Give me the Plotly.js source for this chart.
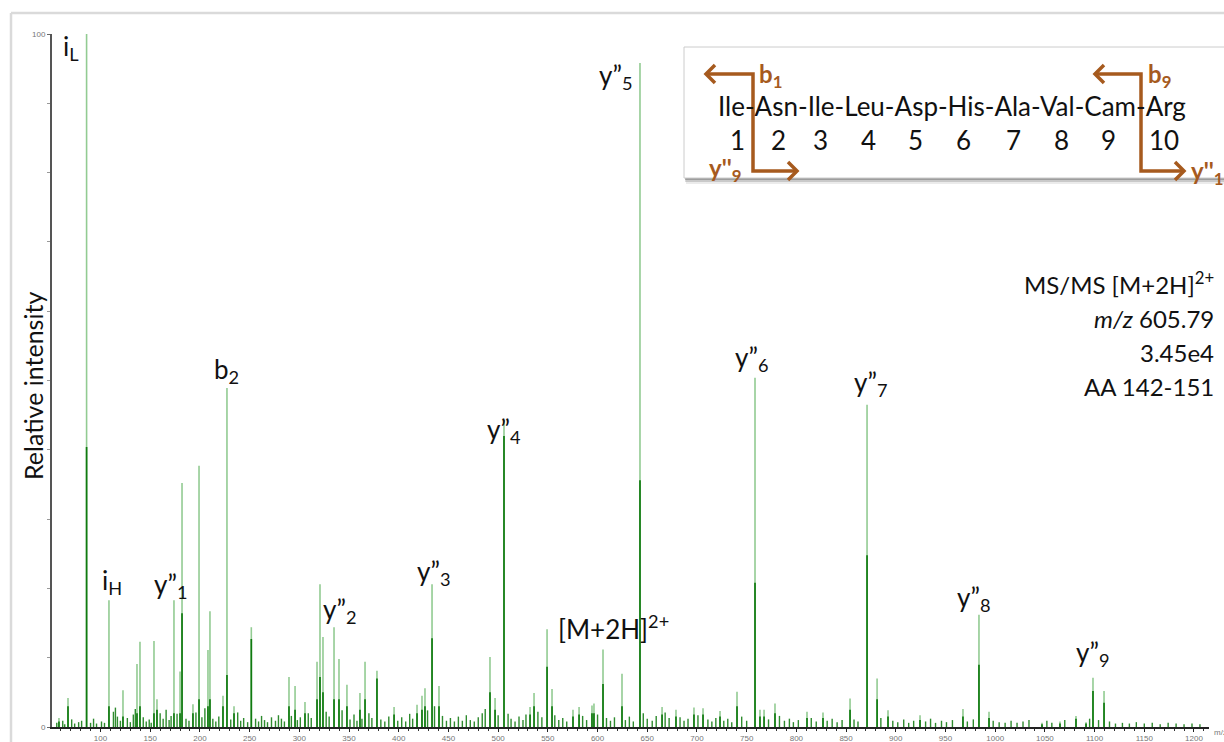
<!DOCTYPE html>
<html><head><meta charset="utf-8">
<script src="https://cdn.plot.ly/plotly-3.0.1.min.js"></script>
<style>html,body{margin:0;padding:0;background:#fff;}#chart{width:1224px;height:742px;}</style>
</head><body><div id="chart"></div>
<script>
// ---- DATA ----
// peak sticks: m/z, full (profile) height, dark (core) height, relative intensity %
const peakMz   = [58.2, 67.3, 86.0, 108.5, 122.6, 136.7, 139.7, 153.8, 156.8, 173.9, 180.0, 182.0, 193.0, 199.1, 208.1, 210.1, 223.2, 227.2, 234.3, 251.7,
                  289.6, 295.7, 305.7, 317.8, 320.8, 323.8, 334.9, 339.9, 347.9, 361.0, 366.1, 378.1, 395.3, 418.4, 423.4, 426.4, 433.5, 440.5,
                  491.8, 496.9, 505.9, 532.1, 536.1, 549.2, 554.2, 575.3, 581.4, 594.4, 596.4, 605.5, 624.6, 642.7, 664.9, 678.9, 697.0, 706.1, 723.2,
                  740.3, 758.4, 763.4, 767.5, 778.5, 810.7, 826.8, 854.0, 871.1, 881.2, 892.2, 924.4, 967.6, 983.7, 993.8, 1047.1, 1065.2, 1081.3, 1091.4, 1098.4, 1109.5];
const peakInt  = [1.3, 4.2, 100, 18.3, 5.3, 9.1, 12.3, 12.4, 4.0, 18.3, 8.0, 35.2, 3.3, 37.7, 11.1, 16.7, 4.5, 48.9, 3.0, 14.4,
                  7.2, 5.9, 3.6, 9.4, 20.6, 13.0, 14.4, 9.8, 6.1, 4.9, 9.4, 8.1, 2.9, 3.2, 4.5, 5.6, 20.6, 5.9,
                  10.1, 4.2, 44.3, 2.9, 4.9, 14.1, 5.5, 2.5, 2.9, 3.1, 3.4, 11.2, 7.7, 95.8, 2.9, 2.5, 2.8, 2.7, 2.3,
                  5.1, 50.4, 2.5, 2.5, 3.4, 2.2, 2.1, 4.1, 46.5, 7.0, 2.4, 1.7, 2.6, 16.2, 2.2, 0.6, 0.8, 1.6, 0.7, 7.1, 5.2];
const peakCore = [0.8, 3.0, 40.4, 3.0, 1.5, 2.0, 3.0, 2.0, 2.5, 2.0, 2.0, 16.4, 2.0, 4.0, 3.0, 4.0, 3.0, 7.5, 2.0, 12.7,
                  3.0, 2.5, 2.0, 4.0, 7.2, 5.0, 4.0, 4.0, 3.0, 2.5, 4.0, 7.0, 1.8, 2.0, 2.5, 3.0, 12.8, 3.0,
                  5.0, 2.5, 42.0, 1.8, 3.0, 8.7, 3.0, 1.5, 1.8, 2.0, 2.0, 6.2, 3.0, 35.6, 1.8, 1.5, 1.8, 1.8, 1.5,
                  3.0, 20.8, 1.5, 1.5, 2.0, 1.3, 1.3, 2.5, 24.8, 4.0, 1.5, 1.0, 1.5, 9.0, 1.3, 0.4, 0.5, 1.2, 0.5, 5.2, 3.5];
// baseline noise sticks
const noiseMz  = [56, 62, 64, 71, 74, 78, 81, 90, 93, 96, 101, 104, 113, 115, 117, 120, 127, 130, 133, 135, 143, 146, 149, 151, 160, 163, 166, 169, 171, 177,
                  186, 189, 196, 202, 205, 213, 216, 219, 231, 238, 241, 244, 248, 256, 259, 262, 265, 268, 272, 276, 279, 282, 285, 292, 298, 301, 309, 312,
                  327, 330, 343, 351, 355, 358, 363, 370, 373, 382, 386, 390, 399, 403, 407, 411, 414, 429, 436, 444, 448, 452, 456, 460, 464, 468, 472, 476,
                  480, 484, 487, 500, 510, 513, 517, 521, 525, 528, 540, 544, 557, 561, 565, 569, 585, 589, 600, 609, 613, 617, 628, 632, 636, 646, 650, 655,
                  659, 668, 672, 683, 687, 691, 701, 711, 715, 719, 727, 731, 735, 745, 750, 772, 783, 788, 793, 797, 802, 815, 820, 831, 836, 841, 846, 858,
                  862, 885, 897, 902, 908, 913, 918, 930, 935, 940, 946, 951, 957, 972, 978, 998, 1004, 1010, 1016, 1022, 1028, 1034, 1052, 1057, 1070, 1095,
                  1104, 1115, 1121, 1128, 1135, 1142, 1150, 1158, 1166, 1174, 1182, 1190, 1198, 1206];
const noiseInt = [0.6, 0.9, 0.4, 1.1, 0.5, 0.7, 0.9, 0.6, 1.2, 0.5, 0.8, 0.6, 2.2, 2.8, 1.5, 0.9, 1.3, 0.7, 1.8, 2.6, 1.4, 0.8, 1.1, 0.6, 2.0, 1.2, 2.5, 1.0, 1.6, 1.9,
                  1.2, 0.9, 2.1, 1.4, 2.7, 1.2, 0.8, 1.5, 1.1, 2.1, 0.9, 1.3, 0.7, 1.2, 0.8, 1.6, 1.0, 0.7, 1.4, 0.9, 1.7, 1.2, 0.8, 1.6, 1.0, 1.4, 2.0, 1.3,
                  2.2, 1.5, 2.4, 1.1, 1.8, 0.9, 1.2, 2.0, 1.3, 1.1, 0.8, 1.5, 0.9, 1.4, 0.8, 1.9, 1.2, 2.4, 3.0, 1.6, 0.9, 1.3, 0.8, 1.5, 0.9, 1.7, 1.0, 0.8,
                  1.4, 2.0, 2.6, 1.7, 1.9, 1.2, 0.8, 1.5, 1.0, 1.8, 2.2, 1.4, 1.7, 1.0, 1.3, 0.8, 1.6, 1.0, 1.8, 1.3, 0.9, 1.4, 1.0, 1.5, 0.8, 2.0, 1.2, 0.9,
                  1.6, 2.1, 1.3, 1.4, 0.9, 1.2, 1.7, 1.1, 0.8, 1.3, 0.9, 1.2, 0.7, 1.5, 0.9, 1.1, 1.6, 0.9, 1.2, 0.7, 1.0, 1.3, 0.8, 0.9, 1.2, 0.7, 1.0, 1.1,
                  0.8, 1.3, 0.9, 0.7, 1.1, 0.6, 0.9, 0.8, 1.2, 0.6, 0.9, 0.7, 1.0, 0.8, 1.1, 0.9, 0.7, 0.6, 0.9, 0.6, 0.8, 1.0, 0.9, 0.6, 1.0, 1.2,
                  1.0, 0.8, 0.5, 0.6, 0.5, 0.7, 0.5, 0.6, 0.4, 0.6, 0.5, 0.4, 0.5, 0.4];
// tick labels
const xTickVals = [100,150,200,250,300,350,400,450,500,550,600,650,700,750,800,850,900,950,1000,1050,1100,1150,1200];
const xTickText = xTickVals.map(String);
const yTickVals = [0,100];
const yTickText = ['0','100'];
// peak labels
const peakLabels = ['i<sub>L</sub>','y\u201D<sub>5</sub>','b<sub>2</sub>','y\u201D<sub>4</sub>','y\u201D<sub>6</sub>','y\u201D<sub>7</sub>',
                    'i<sub>H</sub>','y\u201D<sub>1</sub>','y\u201D<sub>2</sub>','y\u201D<sub>3</sub>','[M+2H]<sup>2+</sup>','y\u201D<sub>8</sub>','y\u201D<sub>9</sub>'];
// inset: peptide sequence and residue numbers
const residues = ['Ile','Asn','Ile','Leu','Asp','His','Ala','Val','Cam','Arg'];
const residueNumbers = ['1','2','3','4','5','6','7','8','9','10'];
const fragmentLabels = ['b<sub>1</sub>','b<sub>9</sub>','y\'\'<sub>9</sub>','y\'\'<sub>1</sub>'];
const infoLines = ['MS/MS [M+2H]<sup>2+</sup>','<i>m/z</i> 605.79','3.45e4','AA 142-151'];

// ---- LAYOUT HELPERS ----
const L=52, T=34, W=1157, H=693;
const px = x => (x - L) / W;
const py = y => (T + H - y) / H;
const FONT = 'Lato, "Open Sans", sans-serif';
const BROWN = '#A65A1E';

function sticks(mz, h){ const xs=[], ys=[]; for(let i=0;i<mz.length;i++){ xs.push(mz[i],mz[i],null); ys.push(0,h[i],null);} return {xs,ys}; }
const light = sticks(peakMz, peakInt);
const dark  = sticks(peakMz, peakCore);
const noise = sticks(noiseMz, noiseInt);

const traces = [
  {x: light.xs, y: light.ys, type:'scatter', mode:'lines', line:{color:'#92cb92', width:1.6}, hoverinfo:'skip', showlegend:false},
  {x: noise.xs, y: noise.ys, type:'scatter', mode:'lines', line:{color:'#2e8b2e', width:1.4}, hoverinfo:'skip', showlegend:false},
  {x: dark.xs,  y: dark.ys,  type:'scatter', mode:'lines', line:{color:'#107a10', width:1.7}, hoverinfo:'skip', showlegend:false}
];

const ann = [];
// peak label positions (left edge px, middle px)
const labelPos = [[61,47],[597,77],[212,370],[485,430],[733,358],[852,383],[100,581],[152,585],[321,610],[415,572],[556,627],[955,598],[1074,653]];
peakLabels.forEach((t,i)=>ann.push({text:t, x:px(labelPos[i][0]), y:py(labelPos[i][1]), xref:'paper', yref:'paper', xanchor:'left', yanchor:'middle', showarrow:false, font:{family:FONT, size:26, color:'#111'}}));
// info block
const infoY = [283,318,352,386];
infoLines.forEach((t,i)=>ann.push({text:t, x:px(1216), y:py(infoY[i]), xref:'paper', yref:'paper', xanchor:'right', yanchor:'middle', showarrow:false, font:{family:FONT, size:24, color:'#111'}}));
// y title
ann.push({text:'Relative intensity', x:px(33), y:py(386), xref:'paper', yref:'paper', xanchor:'center', yanchor:'middle', textangle:-90, showarrow:false, font:{family:FONT, size:25, color:'#111'}});
// m/z axis label
ann.push({text:'m/z', x:px(1212), y:py(732), xref:'paper', yref:'paper', xanchor:'left', yanchor:'middle', showarrow:false, font:{family:'Liberation Sans, Arial', size:8, color:'#777'}});
// inset sequence
ann.push({text:residues.join('-'), x:px(952), y:py(106), xref:'paper', yref:'paper', xanchor:'center', yanchor:'middle', showarrow:false, font:{family:FONT, size:26, color:'#111'}});
const numX = [737,778,820,868,915,963,1013,1061,1108,1164];
residueNumbers.forEach((t,i)=>ann.push({text:t, x:px(numX[i]), y:py(140), xref:'paper', yref:'paper', xanchor:'center', yanchor:'middle', showarrow:false, font:{family:FONT, size:26, color:'#111'}}));
// inset brown labels
const fragPos = [[757,76],[1146,76],[707,170],[1189,172]];
fragmentLabels.forEach((t,i)=>ann.push({text:'<b>'+t+'</b>', x:px(fragPos[i][0]), y:py(fragPos[i][1]), xref:'paper', yref:'paper', xanchor:'left', yanchor:'middle', showarrow:false, font:{family:FONT, size:24, color:BROWN}}));

const shapes = [
  {type:'line', xref:'paper', yref:'paper', x0:px(11), y0:py(13), x1:px(1224), y1:py(13), line:{color:'#dadada', width:2.5}},
  {type:'line', xref:'paper', yref:'paper', x0:px(11), y0:py(13), x1:px(11), y1:py(742), line:{color:'#dadada', width:2.5}},
  {type:'rect', xref:'paper', yref:'paper', x0:px(686), y0:py(51), x1:px(1232), y1:py(184), fillcolor:'rgba(0,0,0,0.08)', line:{width:0}},
  {type:'rect', xref:'paper', yref:'paper', x0:px(685), y0:py(50), x1:px(1232), y1:py(182), fillcolor:'rgba(0,0,0,0.14)', line:{width:0}},
  {type:'rect', xref:'paper', yref:'paper', x0:px(685), y0:py(49), x1:px(1232), y1:py(180), fillcolor:'rgba(0,0,0,0.22)', line:{width:0}},
  {type:'rect', xref:'paper', yref:'paper', x0:px(684), y0:py(47), x1:px(1232), y1:py(178), fillcolor:'#ffffff', line:{color:'#cccccc', width:1}}
];
// cleavage markers: bar x, top y, bottom y, left head x, right head x
const cuts = [[753,74,171,706,797],[1141,74,171,1095,1184]];
const A = 9;
cuts.forEach(c=>{
  const [bx,ty,by,hl,hr]=c;
  const path = 'M'+px(hl)+','+py(ty)+' L'+px(bx)+','+py(ty)+' L'+px(bx)+','+py(by)+' L'+px(hr)+','+py(by);
  shapes.push({type:'path', xref:'paper', yref:'paper', path:path, line:{color:BROWN, width:3.5}});
  shapes.push({type:'path', xref:'paper', yref:'paper', path:'M'+px(hl+A)+','+py(ty-A)+' L'+px(hl)+','+py(ty)+' L'+px(hl+A)+','+py(ty+A), line:{color:BROWN, width:3.5}});
  shapes.push({type:'path', xref:'paper', yref:'paper', path:'M'+px(hr-A)+','+py(by-A)+' L'+px(hr)+','+py(by)+' L'+px(hr-A)+','+py(by+A), line:{color:BROWN, width:3.5}});
});

const layout = {
  width:1224, height:742,
  margin:{l:L, r:1224-L-W, t:T, b:742-T-H},
  paper_bgcolor:'#fff', plot_bgcolor:'#fff',
  showlegend:false,
  xaxis:{range:[51.2,1215.1], tickmode:'array', tickvals:xTickVals, ticktext:xTickText, ticks:'outside', ticklen:3, tickcolor:'#222',
         showline:true, linecolor:'#222', linewidth:1.5, showgrid:false, zeroline:false,
         minor:{dtick:10, tick0:0, ticks:'outside', ticklen:2, tickcolor:'#333', showgrid:false},
         tickfont:{family:'Liberation Sans, Arial', size:8, color:'#777'}, fixedrange:true},
  yaxis:{range:[0,100], tickmode:'array', tickvals:yTickVals, ticktext:yTickText, ticks:'outside', ticklen:3, tickcolor:'#666',
         showline:true, linecolor:'#555', linewidth:2, showgrid:false, zeroline:false,
         minor:{dtick:10, tick0:0, ticks:'outside', ticklen:3, tickcolor:'#999', showgrid:false},
         tickfont:{family:'Liberation Sans, Arial', size:8, color:'#777'}, fixedrange:true},
  annotations:ann,
  shapes:shapes
};
Plotly.newPlot('chart', traces, layout, {staticPlot:true, displayModeBar:false});
</script></body></html>
